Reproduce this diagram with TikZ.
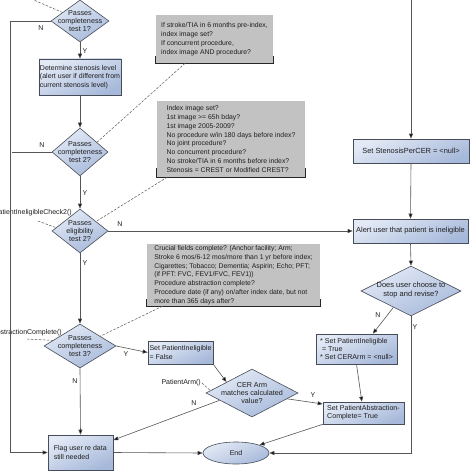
\documentclass[tikz,border=0pt]{standalone}
\usepackage{fontspec}
\setmainfont{Liberation Sans}
\usetikzlibrary{shapes.geometric,arrows.meta,calc}
\definecolor{edgec}{HTML}{474D58}
\definecolor{lightb}{HTML}{E3EAF6}
\definecolor{darkb}{HTML}{A7B9DA}
\definecolor{linec}{HTML}{555555}
\definecolor{anng}{HTML}{C2C2C2}
\definecolor{txtc}{HTML}{1E1E1E}
\newcommand\fs{\fontsize{7.0}{8.4}\selectfont}
\newcommand\fsr{\fontsize{7.4}{9}\selectfont}
\newcommand\fsb{\fontsize{7.1}{8.1}\selectfont}
\newcommand\fsd{\fontsize{7.2}{7.8}\selectfont}
\newcommand\fsa{\fontsize{6.85}{8.85}\selectfont}
\newcommand\fsl{\fontsize{7.0}{8}\selectfont}
\begin{document}
\begin{tikzpicture}[x=1pt,y=-1pt,
  box/.style={rectangle, draw=edgec, line width=0.6pt, top color=lightb, bottom color=darkb, shading angle=25, inner sep=1pt, font=\fs, text=txtc, align=left},
  cbox/.style={box, align=center, font=\fsr},
  dia/.style={diamond, draw=edgec, line width=0.6pt, top color=lightb, bottom color=darkb, shading angle=25, inner sep=0pt},
  dtxt/.style={font=\fsd, text=txtc, align=center, inner sep=0pt},
  ann/.style={rectangle, fill=anng, inner sep=0pt, font=\fsa, text=txtc, align=left},
  brk/.style={draw=black!85, line width=0.8pt},
  lbl/.style={font=\fsl, text=txtc, inner sep=0pt},
  arr/.style={draw=linec, line width=0.6pt, -{Triangle[length=5pt,width=4pt,fill=black]}},
  ln/.style={draw=linec, line width=0.6pt},
  dsh/.style={draw=linec, line width=0.5pt, dash pattern=on 2.5pt off 1.5pt}
]
\useasboundingbox (0,0) rectangle (476,476);
\fill[white] (0,0) rectangle (476,476);
\clip (0,0) rectangle (476,476);

% diamonds
\node[dia, minimum width=58pt, minimum height=42pt, label={[dtxt]center:{Passes\\completeness\\test 1?}}] (d1) at (80,21) {};
\node[dia, minimum width=56pt, minimum height=48pt, label={[dtxt]center:{Passes\\completeness\\test 2?}}] (d2) at (80,152) {};
\node[dia, minimum width=56pt, minimum height=44pt, label={[dtxt]center:{Passes\\eligibility\\test 2?}}] (d3) at (80,231) {};
\node[dia, minimum width=72pt, minimum height=44pt, label={[dtxt]center:{Passes\\completeness\\test 3?}}] (d4) at (80,346) {};
\node[dia, minimum width=92pt, minimum height=48pt, label={[dtxt]center:{CER Arm\\matches calculated\\value?}}] (d5) at (252,393) {};
\node[dia, minimum width=100pt, minimum height=50pt, label={[dtxt, yshift=1pt, font=\fontsize{7.5}{8.3}\selectfont]center:{Does user choose to\\stop and revise?}}] (d6) at (411,291) {};

% boxes
\node[box, minimum width=82pt, minimum height=36pt] (b1) at (80,77) {Determine stenosis level\\(alert user if different from\\current stenosis level)};
\node[box, minimum width=65pt, minimum height=23pt] (b2) at (180.5,352.5) {Set PatientIneligible\\= False};
\node[box, minimum width=81pt, minimum height=22pt, font=\fsb] (b3) at (363.5,413) {Set PatientAbstraction-\\Complete= True};
\node[box, font=\fsb, minimum width=81pt, minimum height=30pt] (b4) at (356.5,349) {{*} Set PatientIneligible\\\hspace*{2pt}= True\\{*} Set CERArm = <null>};
\node[box, minimum width=65pt, minimum height=35pt] (flag) at (80.5,452.5) {Flag user re data\\still needed\hspace*{18pt}};
\node[cbox, minimum width=115pt, minimum height=24pt] (alert) at (410.5,231) {Alert user that patient is ineligible};
\node[cbox, minimum width=116pt, minimum height=24pt] (sten) at (411,151) {Set StenosisPerCER = <null>};
\node[ellipse, draw=edgec, line width=0.6pt, top color=lightb, bottom color=darkb, shading angle=25, minimum width=66pt, minimum height=22pt, inner sep=0pt, font=\fs, text=txtc] (end) at (236,453) {End};

% annotations
\node[ann, minimum width=117pt, minimum height=48pt] (a1) at (214.5,39) {If stroke/TIA in 6 months pre-index,\\index image set?\\If concurrent procedure,\\index image AND procedure?};
\draw[brk] ([yshift=7pt]a1.south west) -- (a1.south west) -- (a1.south east) -- ([yshift=7pt]a1.south east);
\node[ann, minimum width=148pt, minimum height=76pt] (a2) at (231,139) {Index image set?\\1st image >= 65h bday?\\1st image 2005-2009?\\No procedure w/in 180 days before index?\\No joint procedure?\\No concurrent procedure?\\No stroke/TIA in 6 months before index?\\Stenosis = CREST or Modified CREST?\hspace*{6pt}};
\draw[brk] ([yshift=9pt]a2.south west) -- (a2.south west) -- (a2.south east) -- ([yshift=9pt]a2.south east);
\node[ann, minimum width=173pt, minimum height=62pt, font=\fontsize{6.85}{8.75}\selectfont] (a3) at (233.5,275) {Crucial fields complete? (Anchor facility; Arm;\\Stroke 6 mos/6-12 mos/more than 1 yr before index;\\Cigarettes; Tobacco; Dementia; Aspirin; Echo; PFT;\\(if PFT: FVC, FEV1/FVC, FEV1))\\Procedure abstraction complete?\\Procedure date (if any) on/after index date, but not\\more than 365 days after?};
\draw[brk] ([yshift=7pt]a3.south west) -- (a3.south west) -- (a3.south east) -- ([yshift=7pt]a3.south east);

% function labels
\node[lbl, anchor=east] (f1) at (72,213) {PatientIneligibleCheck2()};
\coordinate (f1d) at (38,221);
\node[lbl, anchor=east] (f2) at (62,333) {PatientAbstractionComplete()};
\coordinate (f2d) at (27,339);
\node[lbl, anchor=east] (f3) at (201,383) {PatientArm()};
\coordinate (top1) at (20,-6);
\coordinate (top2) at (411,-5);

% dashed annotation links
\draw[dsh] (top1) -- ($(d1.west)!0.4!(d1.north)$);
\draw[dsh] ($(a1.south west)!0.25!(a1.south east)$) -- ($(d2.north)!0.6!(d2.east)$);
\draw[dsh] ($(a2.south west)!0.07!(a2.south east)$) -- ($(d3.north)!0.57!(d3.east)$);
\draw[dsh] ($(a3.south west)!0.09!(a3.south east)$) -- ($(d4.north)!0.56!(d4.east)$);
\draw[dsh] (f1d) -- ($(d3.west)!0.15!(d3.north)$);
\draw[dsh] (f2d) -- ($(d4.west)!0.25!(d4.north)$);
\draw[dsh] ([xshift=1pt]f3.east) -- ($(d5.west)!0.1!(d5.north)$);

% connectors
\draw[arr] (d1.south) -- (b1.north);
\draw[arr] (b1.south) -- (d2.north);
\draw[arr] (d2.south) -- (d3.north);
\draw[arr] (d3.south) -- (d4.north);
\draw[arr] (d1.west) -- ++(-40,0) |- (flag.west);
\draw[ln] (d2.west) -- ++(-40,0);
\draw[arr] (d3.east) -- (alert.west);
\draw[arr] (d4.east) -- (b2.west);
\draw[arr] (d4.south) -- (flag.north);
\draw[arr] (b2.south east) -- ($(d5.west)!0.45!(d5.north)$);
\draw[arr] ($(d5.west)!0.3!(d5.south)$) -- ($(flag.north east)!0.15!(flag.south east)$);
\draw[arr] ($(d5.east)!0.24!(d5.south)$) -- ($(b3.north west)!0.1!(b3.south west)$);
\draw[arr] (b3.south west) -- (end.north east);
\draw[arr] (flag.east) -- (end.west);
\draw[arr] (top2) -- (sten.north);
\draw[arr] (sten.south) -- (alert.north);
\draw[arr] (alert.south) -- (d6.north);
\draw[arr] ($(d6.west)!0.65!(d6.south)$) -- ($(b4.north west)!0.7!(b4.north east)$);
\draw[arr] (d6.south) |- (end.east);
\draw[arr] (b4.south) -- ($(b3.north west)!0.48!(b3.north east)$);

% Y/N labels
\node[lbl] (n1) at (41,28) {N};
\node[lbl] (y1) at (85,51) {Y};
\node[lbl] (n2) at (42,145) {N};
\node[lbl] (y2) at (85,193) {Y};
\node[lbl] (n3) at (120,224) {N};
\node[lbl] (y3) at (85,263) {Y};
\node[lbl] (y4) at (126,354) {Y};
\node[lbl] (n4) at (75,381) {N};
\node[lbl] (n5) at (194,403) {N};
\node[lbl] (y5) at (313,395) {Y};
\node[lbl] (n6) at (378,315) {N};
\node[lbl] (y6) at (415,327) {Y};
\end{tikzpicture}
\end{document}
